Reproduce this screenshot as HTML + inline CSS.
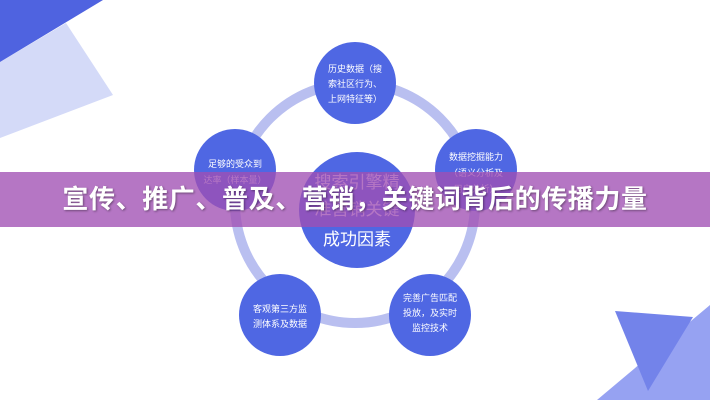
<!DOCTYPE html>
<html><head><meta charset="utf-8"><style>
body{margin:0;width:710px;height:400px;overflow:hidden;background:#fff;position:relative;font-family:"Liberation Sans","Noto Sans CJK SC",sans-serif}
svg{position:absolute;left:0;top:0}
.banner{position:absolute;left:0;top:172px;width:710px;height:55px;background:rgba(160,80,180,0.78);color:#fff;font-weight:bold;font-size:26px;line-height:55px;text-align:center;letter-spacing:0.6px;text-shadow:1px 1px 2px rgba(0,0,0,0.4)}
</style></head><body>
<svg width="710" height="400" viewBox="0 0 710 400" font-family="Liberation Sans, Noto Sans CJK SC, sans-serif">
<polygon points="66,23 113,95 0,138 0,62" fill="#d4daf8"/>
<polygon points="0,0 103,0 0,62" fill="#4f63e0"/>
<polygon points="597,400 710,305 710,400" fill="#96a2f2"/>
<polygon points="615,311 693,317 648,391" fill="#7383ea"/>
<circle cx="355" cy="203" r="120" fill="none" stroke="#b9bff0" stroke-width="10"/>
<g fill="#4f67e3">
<circle cx="355" cy="83" r="41"/>
<circle cx="235" cy="170" r="41"/>
<circle cx="476" cy="170" r="41"/>
<circle cx="280" cy="315" r="41"/>
<circle cx="430" cy="315" r="41"/>
<circle cx="357" cy="210" r="58"/>
</g>
<g fill="#fff" font-size="9" text-anchor="middle">
<text x="355" y="72">历史数据（搜</text><text x="355" y="87">索社区行为、</text><text x="355" y="102">上网特征等）</text>
<text x="235" y="167">足够的受众到</text><text x="235" y="183">达率（样本量）</text>
<text x="476" y="160">数据挖掘能力</text><text x="476" y="176">（语义分析及</text><text x="476" y="192">用户分析）</text>
<text x="280" y="312">客观第三方监</text><text x="280" y="327">测体系及数据</text>
<text x="430" y="301">完善广告匹配</text><text x="430" y="316">投放，及实时</text><text x="430" y="331">监控技术</text>
</g>
<g fill="#fff" font-size="17" text-anchor="middle">
<text x="357" y="188">搜索引擎精</text><text x="357" y="215">准营销关键</text><text x="357" y="245">成功因素</text>
</g>
</svg>
<div class="banner">宣传、推广、普及、营销，关键词背后的传播力量</div>
</body></html>
